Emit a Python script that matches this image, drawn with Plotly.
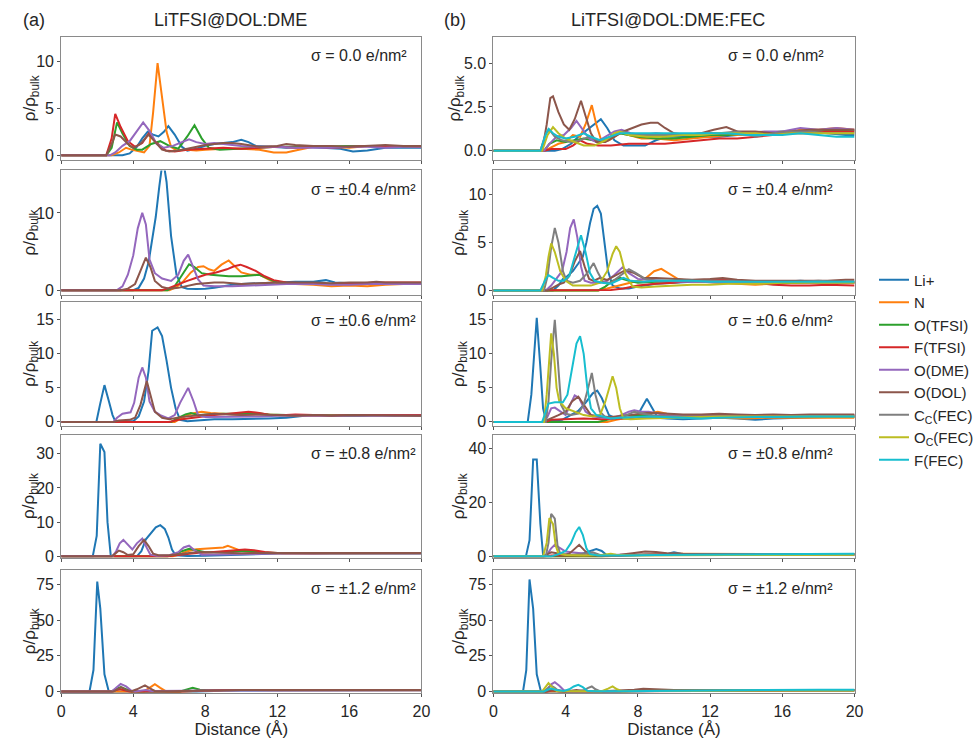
import plotly.graph_objects as go

# ---------------------------------------------------------------------------
# Number-density profiles rho/rho_bulk vs. distance from the electrode (Å)
# Each curve is a list of (distance, rho/rho_bulk) points.
# ---------------------------------------------------------------------------

SPECIES = ["Li+", "N", "O(TFSI)", "F(TFSI)", "O(DME)", "O(DOL)",
           "Cc(FEC)", "Oc(FEC)", "F(FEC)"]
LEGEND_LABELS = ["Li+", "N", "O(TFSI)", "F(TFSI)", "O(DME)", "O(DOL)",
                 "C<sub>C</sub>(FEC)", "O<sub>C</sub>(FEC)", "F(FEC)"]
COLORS = ["#1f77b4", "#ff7f0e", "#2ca02c", "#d62728", "#9467bd", "#8c564b",
          "#7f7f7f", "#bcbd22", "#17becf"]

SIGMA_LABELS = ["σ = 0.0 e/nm²", "σ = ±0.4 e/nm²", "σ = ±0.6 e/nm²",
                "σ = ±0.8 e/nm²", "σ = ±1.2 e/nm²"]
COLUMN_TITLES = ["LiTFSI@DOL:DME", "LiTFSI@DOL:DME:FEC"]
PANEL_TAGS = ["(a)", "(b)"]

X_TICKS = [0, 4, 8, 12, 16, 20]

# ---------------- LiTFSI@DOL:DME ----------------
dme_00 = {
    "Li+": [(0, 0), (3.4, 0), (3.8, 0.2), (4.2, 0.9), (4.5, 1.8), (4.8, 2.5), (5.1, 2.2), (5.4, 2.0), (5.7, 2.5),
            (5.95, 3.1), (6.3, 2.2), (6.7, 0.9), (7.0, 0.5), (7.5, 0.7), (8.0, 1.0), (8.5, 1.2), (9.0, 1.3),
            (9.5, 1.4), (10.0, 1.65), (10.4, 1.4), (10.8, 1.0), (11.5, 0.9), (12.5, 0.8), (13.5, 0.9), (14.5, 0.8),
            (15.5, 0.7), (16.2, 0.4), (17.0, 0.5), (18.0, 0.8), (19.0, 0.8), (20, 0.8)],
    "N": [(0, 0), (2.8, 0), (3.2, 0.3), (3.6, 0.8), (3.9, 0.6), (4.3, 0.4), (4.6, 0.3), (4.9, 1.0), (5.1, 4.5),
          (5.35, 9.8), (5.6, 6.0), (5.85, 2.5), (6.1, 0.9), (6.4, 0.5), (7.0, 0.6), (7.5, 0.5), (8.0, 0.6),
          (9.0, 0.7), (10.0, 0.7), (11.0, 0.6), (11.8, 0.3), (12.5, 0.3), (13.2, 0.6), (14.0, 0.9), (15.0, 0.9),
          (16.0, 0.8), (17.0, 1.0), (18.0, 1.0), (19.0, 1.0), (20, 0.9)],
    "O(TFSI)": [(0, 0), (2.5, 0), (2.8, 0.8), (3.1, 3.5), (3.4, 2.3), (3.8, 1.0), (4.2, 0.6), (4.5, 0.6), (5.0, 1.2),
                (5.5, 1.5), (6.0, 1.0), (6.5, 0.7), (7.0, 2.0), (7.4, 3.2), (7.8, 1.8), (8.2, 0.8), (8.8, 0.6),
                (10.0, 0.7), (11.0, 0.8), (12.0, 0.9), (14.0, 0.9), (16.0, 1.0), (18.0, 1.0), (20, 0.9)],
    "F(TFSI)": [(0, 0), (2.5, 0), (2.8, 1.8), (3.0, 4.4), (3.3, 3.0), (3.7, 1.5), (4.1, 0.9), (4.5, 1.3), (4.85, 2.3),
                (5.2, 1.5), (5.8, 0.5), (6.3, 0.4), (7.0, 0.6), (8.0, 0.7), (9.0, 0.8), (10.0, 0.7), (11.0, 0.8),
                (12.0, 0.9), (13.0, 0.8), (14.0, 0.9), (15.0, 0.8), (16.0, 0.9), (17.0, 1.0), (18.0, 0.9),
                (19.0, 1.0), (20, 0.9)],
    "O(DME)": [(0, 0), (2.7, 0), (3.0, 0.3), (3.4, 1.0), (3.8, 1.5), (4.2, 2.5), (4.55, 3.5), (4.9, 2.6), (5.3, 1.2),
               (5.7, 0.8), (6.2, 1.0), (6.7, 1.4), (7.1, 1.7), (7.5, 1.4), (8.0, 1.2), (8.5, 1.3), (9.0, 1.2),
               (10.0, 1.0), (11.0, 0.9), (12.0, 0.9), (13.0, 0.8), (14.0, 0.8), (15.0, 0.8), (16.0, 0.9),
               (17.0, 0.9), (18.0, 0.8), (19.0, 0.9), (20, 0.9)],
    "O(DOL)": [(0, 0), (2.5, 0), (2.8, 1.2), (3.0, 2.2), (3.3, 2.0), (3.7, 1.2), (4.0, 0.8), (4.4, 1.2), (4.85, 2.2),
               (5.2, 1.4), (5.6, 0.6), (6.0, 0.4), (6.5, 0.5), (7.0, 0.7), (7.5, 0.9), (8.0, 1.1), (8.5, 1.2),
               (9.0, 1.3), (9.5, 1.3), (10.0, 1.2), (11.0, 0.9), (12.0, 1.0), (12.5, 1.2), (13.0, 1.1), (14.0, 1.0),
               (15.0, 1.0), (16.0, 0.9), (17.0, 1.0), (18.0, 1.1), (19.0, 1.0), (20, 1.0)],
}

dme_04 = {
    "Li+": [(0, 0), (4.0, 0), (4.3, 0.3), (4.6, 1.5), (4.85, 3.6), (5.05, 6.5), (5.25, 9.5), (5.45, 13.5),
            (5.65, 17.0), (5.85, 14.0), (6.1, 7.0), (6.4, 2.0), (6.7, 0.4), (7.0, 0.2), (7.5, 0.15), (8.0, 0.2),
            (8.5, 0.3), (9.0, 0.5), (9.5, 0.7), (10.0, 0.8), (11.0, 0.9), (12.0, 1.0), (13.0, 1.1), (14.0, 1.1),
            (14.7, 1.3), (15.2, 1.0), (16.0, 0.9), (17.0, 0.9), (18.0, 0.9), (19.0, 0.9), (20, 0.9)],
    "N": [(0, 0), (6.0, 0), (6.4, 0.4), (6.8, 1.2), (7.2, 2.3), (7.6, 3.0), (7.9, 3.1), (8.2, 2.7), (8.5, 2.5),
          (8.9, 3.3), (9.3, 3.85), (9.6, 3.2), (10.0, 2.3), (10.5, 2.0), (11.0, 2.0), (11.5, 1.4), (12.0, 0.9),
          (12.5, 0.8), (13.0, 0.8), (14.0, 0.7), (15.0, 0.5), (16.0, 0.6), (17.0, 0.5), (18.0, 0.7), (19.0, 0.8),
          (20, 0.8)],
    "O(TFSI)": [(0, 0), (5.9, 0), (6.3, 0.5), (6.7, 2.0), (7.1, 3.35), (7.4, 3.0), (7.8, 2.2), (8.3, 2.0),
                (8.8, 1.9), (9.3, 1.8), (10.0, 1.8), (10.6, 1.9), (11.0, 2.0), (11.5, 1.5), (12.0, 1.0), (12.5, 0.9),
                (13.5, 0.9), (15.0, 0.8), (16.0, 0.8), (17.0, 0.8), (18.0, 0.8), (19.0, 0.8), (20, 0.8)],
    "F(TFSI)": [(0, 0), (5.6, 0), (6.0, 0.3), (6.5, 0.8), (7.0, 1.2), (7.5, 1.6), (8.0, 2.0), (8.6, 2.3), (9.2, 2.7),
                (9.6, 3.1), (9.95, 3.3), (10.3, 3.0), (10.8, 2.5), (11.3, 1.8), (11.8, 1.3), (12.5, 1.0),
                (13.5, 0.9), (14.5, 0.8), (15.5, 0.8), (16.5, 0.9), (17.5, 1.0), (18.5, 1.0), (19.5, 1.0),
                (20, 1.0)],
    "O(DME)": [(0, 0), (3.1, 0), (3.4, 0.5), (3.7, 2.0), (4.0, 4.5), (4.25, 8.0), (4.5, 10.0), (4.7, 8.5),
               (4.9, 4.0), (5.2, 2.2), (5.6, 1.5), (6.1, 1.2), (6.5, 2.0), (6.8, 3.8), (7.05, 4.6), (7.3, 3.2),
               (7.6, 1.4), (7.9, 0.6), (8.5, 0.5), (9.5, 0.5), (10.5, 0.6), (11.5, 0.7), (12.5, 0.8), (14.0, 0.8),
               (15.0, 0.7), (16.0, 0.7), (17.0, 0.8), (18.0, 0.8), (19.0, 0.8), (20, 0.8)],
    "O(DOL)": [(0, 0), (3.3, 0), (3.7, 0.2), (4.1, 0.8), (4.4, 2.5), (4.7, 4.2), (4.95, 3.0), (5.2, 1.2), (5.6, 0.4),
               (6.0, 0.2), (6.5, 0.3), (7.0, 0.6), (7.5, 0.8), (8.0, 0.9), (8.5, 1.0), (9.0, 1.0), (9.5, 0.9),
               (10.0, 0.8), (11.0, 0.9), (12.0, 1.0), (13.0, 1.0), (14.0, 1.0), (15.0, 0.9), (16.0, 1.0),
               (17.0, 1.0), (17.5, 1.1), (18.0, 1.0), (19.0, 1.0), (20, 1.0)],
}

dme_06 = {
    "Li+": [(0, 0), (1.95, 0), (2.15, 2.5), (2.4, 5.4), (2.65, 3.0), (2.85, 1.0), (3.0, 0.1), (4.0, 0.1), (4.3, 0.8),
            (4.6, 3.0), (4.85, 7.5), (5.05, 13.4), (5.35, 13.9), (5.6, 12.6), (5.85, 9.0), (6.1, 5.0), (6.35, 2.0),
            (6.6, 0.3), (7.0, 0.1), (7.5, 0.2), (8.5, 0.4), (9.5, 0.4), (10.5, 0.4), (11.5, 0.5), (12.5, 0.6),
            (13.5, 0.9), (14.5, 1.0), (15.5, 0.9), (16.5, 0.9), (17.5, 1.0), (18.5, 0.9), (19.5, 1.0), (20, 0.9)],
    "N": [(0, 0), (6.3, 0), (6.7, 0.6), (7.2, 1.2), (7.8, 1.5), (8.3, 1.3), (9.0, 1.2), (10.0, 1.0), (11.0, 1.1),
          (12.0, 1.0), (13.0, 1.0), (14.0, 0.9), (15.0, 1.0), (16.0, 0.9), (17.0, 1.0), (18.0, 1.0), (19.0, 0.9),
          (20, 0.9)],
    "O(TFSI)": [(0, 0), (6.1, 0), (6.5, 0.6), (6.9, 1.1), (7.2, 1.3), (7.6, 1.0), (8.2, 1.1), (9.0, 1.2),
                (10.0, 1.2), (10.8, 1.3), (11.5, 1.1), (12.5, 1.0), (14.0, 1.0), (16.0, 0.9), (18.0, 1.0),
                (20, 0.9)],
    "F(TFSI)": [(0, 0), (6.0, 0), (6.5, 0.3), (7.0, 0.5), (7.8, 0.8), (8.5, 1.0), (9.3, 1.2), (10.0, 1.4),
                (10.4, 1.5), (11.0, 1.3), (11.6, 1.0), (12.5, 1.0), (13.0, 1.1), (14.0, 1.0), (15.0, 0.9),
                (16.0, 1.0), (17.0, 1.0), (18.0, 1.1), (19.0, 1.0), (20, 1.0)],
    "O(DME)": [(0, 0), (2.9, 0), (3.1, 0.6), (3.4, 1.2), (3.85, 1.4), (4.05, 2.8), (4.3, 6.5), (4.5, 8.0),
               (4.7, 6.5), (4.9, 3.0), (5.2, 1.5), (5.5, 1.0), (5.95, 0.5), (6.3, 1.0), (6.6, 2.8), (7.05, 5.0),
               (7.35, 3.0), (7.6, 1.0), (8.0, 0.7), (9.0, 0.7), (10.0, 0.8), (11.0, 0.8), (12.0, 0.9), (13.0, 0.9),
               (14.0, 0.9), (15.0, 0.9), (16.0, 0.9), (17.0, 0.9), (18.0, 0.9), (19.0, 0.9), (20, 0.9)],
    "O(DOL)": [(0, 0), (2.9, 0), (3.2, 0.2), (3.8, 0.3), (4.1, 0.6), (4.4, 2.5), (4.75, 6.0), (5.0, 3.5),
               (5.2, 1.5), (5.6, 0.6), (6.0, 0.4), (6.6, 0.7), (7.2, 0.9), (7.8, 1.0), (8.5, 1.2), (9.0, 1.1),
               (10.0, 1.0), (11.0, 1.1), (12.0, 1.0), (13.0, 0.9), (14.0, 1.0), (15.0, 0.9), (16.0, 1.0),
               (17.0, 1.0), (18.0, 0.9), (19.0, 1.0), (20, 0.9)],
}

dme_08 = {
    "Li+": [(0, 0), (1.75, 0), (1.97, 6.0), (2.17, 32.9), (2.4, 30.5), (2.57, 10.0), (2.75, 0.2), (3.0, 0),
            (4.2, 0), (4.45, 1.5), (4.7, 5.0), (5.0, 7.0), (5.25, 8.5), (5.5, 9.1), (5.75, 8.0), (5.95, 5.5),
            (6.15, 2.0), (6.35, 0.3), (7.0, 0.1), (8.0, 0.2), (9.0, 0.4), (10.0, 0.5), (11.0, 0.6), (12.0, 0.8),
            (13.0, 0.9), (14.0, 0.9), (15.0, 0.8), (16.0, 0.8), (17.0, 0.9), (18.0, 0.9), (19.0, 0.9), (20, 0.9)],
    "N": [(0, 0), (6.2, 0), (6.6, 0.6), (7.0, 1.5), (7.5, 2.1), (8.0, 2.3), (8.6, 2.4), (9.0, 2.6), (9.25, 3.1),
          (9.6, 2.4), (10.0, 1.6), (10.6, 1.2), (11.5, 0.9), (12.5, 0.8), (14.0, 0.9), (15.0, 0.8), (16.0, 0.8),
          (18.0, 0.9), (20, 0.9)],
    "O(TFSI)": [(0, 0), (5.9, 0), (6.3, 0.5), (6.7, 1.5), (7.1, 2.2), (7.5, 1.7), (8.0, 1.2), (8.8, 1.3),
                (9.5, 1.4), (10.3, 1.6), (11.0, 1.2), (12.0, 1.0), (14.0, 0.9), (16.0, 0.9), (18.0, 0.9),
                (20, 0.9)],
    "F(TFSI)": [(0, 0), (5.9, 0), (6.5, 0.4), (7.0, 0.7), (7.5, 1.0), (8.3, 1.2), (9.0, 1.5), (9.6, 1.8),
                (10.2, 2.0), (10.7, 1.8), (11.3, 1.3), (12.0, 1.0), (13.0, 0.9), (14.0, 0.9), (15.0, 1.0),
                (16.0, 0.9), (17.0, 1.0), (18.0, 1.0), (19.0, 1.0), (20, 1.0)],
    "O(DME)": [(0, 0), (2.85, 0), (3.05, 1.5), (3.25, 3.8), (3.45, 4.8), (3.7, 3.5), (3.95, 2.0), (4.2, 3.8),
               (4.5, 5.2), (4.75, 2.5), (4.95, 0.5), (5.3, 0.2), (6.0, 0.3), (6.5, 1.2), (6.8, 2.6), (7.1, 3.1),
               (7.4, 1.8), (7.8, 0.5), (8.5, 0.5), (9.5, 0.6), (10.5, 0.7), (12.0, 0.8), (14.0, 0.8), (16.0, 0.8),
               (18.0, 0.8), (20, 0.8)],
    "O(DOL)": [(0, 0), (2.8, 0), (3.0, 0.8), (3.2, 1.7), (3.45, 1.2), (3.7, 0.4), (4.0, 0.6), (4.3, 3.0),
               (4.6, 4.8), (4.85, 3.0), (5.1, 0.8), (5.4, 0.3), (6.0, 0.3), (6.5, 0.6), (7.0, 1.0), (7.5, 1.2),
               (8.0, 1.2), (8.5, 1.1), (9.0, 1.0), (10.0, 0.9), (11.0, 1.0), (12.0, 1.0), (13.0, 1.1), (14.0, 1.0),
               (15.0, 1.0), (16.0, 1.0), (17.0, 1.0), (18.0, 1.0), (19.0, 1.0), (20, 1.0)],
}

dme_12 = {
    "Li+": [(0, 0), (1.57, 0), (1.79, 15.0), (2.0, 77.0), (2.17, 58.0), (2.4, 12.0), (2.63, 0.5), (2.8, 0),
            (7.5, 0), (8.0, 0.3), (9.0, 0.5), (10.0, 0.6), (12.0, 0.7), (14.0, 0.8), (16.0, 0.8), (18.0, 0.8),
            (20, 0.8)],
    "N": [(0, 0), (4.6, 0), (4.9, 2.5), (5.2, 5.1), (5.5, 2.5), (5.8, 0.2), (6.5, 0), (7.5, 0.3), (8.5, 0.9),
          (10.0, 1.0), (12.0, 0.9), (14.0, 0.9), (16.0, 0.9), (18.0, 0.9), (20, 0.9)],
    "O(TFSI)": [(0, 0), (2.8, 0), (3.1, 2.0), (3.3, 3.0), (3.6, 1.5), (3.9, 0), (6.6, 0), (7.0, 1.5), (7.3, 2.5),
                (7.7, 1.2), (8.2, 0.8), (9.0, 1.0), (10.0, 1.0), (12.0, 1.0), (14.0, 0.9), (16.0, 0.9),
                (18.0, 1.0), (20, 1.0)],
    "F(TFSI)": [(0, 0), (2.8, 0), (3.05, 1.0), (3.25, 1.6), (3.5, 0.8), (3.8, 0), (6.5, 0), (7.0, 0.3), (8.0, 0.7),
                (9.0, 1.0), (11.0, 1.0), (13.0, 1.1), (15.0, 1.0), (17.0, 1.0), (20, 1.0)],
    "O(DME)": [(0, 0), (2.8, 0), (3.0, 2.0), (3.3, 5.3), (3.6, 3.5), (3.9, 0.5), (4.1, 0), (4.4, 0.5), (4.7, 1.0),
               (5.0, 0.3), (6.0, 0.1), (7.0, 0.4), (8.0, 0.6), (10.0, 0.7), (12.0, 0.8), (14.0, 0.8), (16.0, 0.8),
               (18.0, 0.8), (20, 0.8)],
    "O(DOL)": [(0, 0), (2.9, 0), (3.1, 1.5), (3.35, 2.8), (3.6, 1.0), (3.9, 0.2), (4.2, 1.5), (4.65, 4.2),
               (4.95, 2.0), (5.2, 0.3), (6.0, 0.2), (7.0, 0.5), (8.0, 0.9), (9.0, 1.0), (10.0, 1.0), (12.0, 1.0),
               (13.0, 1.2), (14.0, 1.0), (16.0, 1.0), (18.0, 1.0), (20, 1.0)],
}

# ---------------- LiTFSI@DOL:DME:FEC ----------------
fec_00 = {
    "Li+": [(0, 0), (3.4, 0), (3.8, 0.1), (4.3, 0.4), (4.7, 0.8), (5.2, 1.2), (5.6, 1.5), (5.95, 1.8), (6.3, 1.3),
            (6.7, 0.6), (7.2, 0.3), (7.8, 0.3), (8.4, 0.3), (9.0, 0.6), (9.6, 0.8), (10.5, 0.8), (11.5, 0.8),
            (12.5, 0.8), (13.5, 0.9), (14.5, 0.9), (15.5, 0.9), (16.5, 1.0), (17.5, 1.1), (18.5, 1.0), (19.5, 0.9),
            (20, 0.9)],
    "N": [(0, 0), (2.8, 0), (3.2, 0.2), (3.6, 0.4), (4.0, 0.5), (4.4, 0.9), (4.8, 0.8), (5.1, 1.5), (5.45, 2.6),
          (5.7, 1.5), (6.0, 0.5), (6.4, 0.6), (7.0, 1.0), (7.5, 0.9), (8.2, 0.7), (9.0, 0.7), (10.0, 0.6),
          (11.0, 0.7), (12.0, 0.8), (13.0, 0.9), (14.0, 0.9), (15.0, 1.0), (16.0, 1.0), (17.0, 1.2), (18.0, 1.2),
          (19.0, 1.3), (20, 1.2)],
    "O(TFSI)": [(0, 0), (2.8, 0), (3.1, 0.4), (3.5, 0.6), (4.0, 0.5), (4.5, 0.6), (5.0, 0.7), (5.5, 0.6),
                (6.0, 0.5), (6.5, 0.8), (7.0, 1.0), (7.5, 0.9), (8.0, 0.8), (9.0, 0.7), (10.0, 0.7), (11.0, 0.8),
                (12.0, 0.9), (13.0, 0.9), (14.0, 1.0), (15.0, 1.0), (16.0, 1.1), (17.0, 1.1), (18.0, 1.1),
                (19.0, 1.2), (20, 1.1)],
    "F(TFSI)": [(0, 0), (2.8, 0), (3.2, 0.1), (4.0, 0.1), (4.4, 0.3), (4.8, 0.6), (5.2, 0.4), (5.8, 0.3),
                (6.5, 0.3), (7.5, 0.4), (8.5, 0.4), (9.5, 0.4), (10.5, 0.5), (11.5, 0.6), (12.5, 0.7), (13.5, 0.7),
                (14.5, 0.8), (15.5, 0.9), (16.5, 1.0), (17.5, 1.0), (18.5, 1.1), (19.5, 1.1), (20, 1.1)],
    "O(DME)": [(0, 0), (2.8, 0), (3.1, 0.4), (3.5, 0.8), (3.9, 0.9), (4.3, 1.3), (4.6, 1.7), (4.9, 1.3), (5.3, 0.7),
               (5.7, 0.5), (6.2, 0.8), (6.7, 1.1), (7.1, 1.2), (7.6, 1.0), (8.2, 0.9), (9.0, 1.0), (10.0, 0.9),
               (11.0, 0.9), (12.0, 1.0), (13.0, 1.0), (14.0, 1.0), (15.0, 1.1), (16.0, 1.1), (17.0, 1.3),
               (18.0, 1.2), (19.0, 1.3), (20, 1.2)],
    "O(DOL)": [(0, 0), (2.7, 0), (2.95, 1.5), (3.15, 3.0), (3.3, 3.1), (3.6, 2.2), (3.9, 1.5), (4.2, 1.2),
               (4.5, 1.8), (4.85, 2.85), (5.1, 2.0), (5.4, 1.0), (5.7, 0.5), (6.2, 0.5), (6.7, 0.8), (7.2, 1.1),
               (7.7, 1.3), (8.2, 1.5), (8.7, 1.6), (9.1, 1.6), (9.5, 1.3), (10.0, 1.0), (10.7, 0.9), (11.5, 1.0),
               (12.2, 1.2), (12.9, 1.35), (13.5, 1.1), (14.5, 1.1), (15.5, 1.0), (16.5, 1.1), (17.5, 1.2),
               (18.5, 1.2), (19.5, 1.2), (20, 1.2)],
    "Cc(FEC)": [(0, 0), (2.6, 0), (2.9, 1.0), (3.1, 1.2), (3.4, 0.8), (3.8, 0.6), (4.3, 0.5), (4.8, 0.6),
                (5.3, 0.8), (5.8, 0.6), (6.3, 0.7), (6.8, 1.0), (7.2, 1.1), (7.7, 0.9), (8.5, 0.9), (9.5, 0.9),
                (10.5, 0.9), (11.5, 1.0), (12.5, 1.0), (13.5, 1.1), (14.5, 0.8), (15.5, 1.0), (16.5, 1.1),
                (17.5, 1.1), (18.5, 1.0), (19.5, 1.0), (20, 1.0)],
    "Oc(FEC)": [(0, 0), (2.7, 0), (3.0, 0.9), (3.3, 1.35), (3.6, 1.0), (4.0, 0.7), (4.5, 0.5), (5.0, 0.3),
                (5.6, 0.3), (6.2, 0.6), (6.7, 1.0), (7.0, 1.1), (7.5, 0.9), (8.5, 0.8), (9.5, 0.8), (10.5, 0.9),
                (11.5, 0.9), (12.5, 1.0), (13.5, 1.0), (14.5, 1.0), (15.5, 0.9), (16.5, 1.0), (17.5, 1.0),
                (18.5, 1.0), (19.5, 1.0), (20, 1.0)],
    "F(FEC)": [(0, 0), (2.6, 0), (2.85, 0.8), (3.05, 1.25), (3.3, 1.0), (3.6, 0.8), (4.0, 0.7), (4.5, 0.8),
               (5.0, 1.0), (5.4, 0.8), (5.9, 0.6), (6.4, 0.8), (7.0, 1.0), (8.0, 1.0), (9.0, 1.0), (10.0, 1.0),
               (11.0, 1.0), (12.0, 1.0), (13.0, 1.0), (14.0, 0.9), (15.0, 0.9), (16.0, 0.9), (17.0, 1.0),
               (18.0, 0.9), (19.0, 0.8), (20, 0.8)],
}

fec_04 = {
    "Li+": [(0, 0), (3.3, 0), (3.6, 0.5), (3.85, 1.2), (4.1, 1.5), (4.4, 2.0), (4.7, 2.8), (4.95, 3.5), (5.15, 5.0),
            (5.35, 7.0), (5.55, 8.5), (5.75, 8.8), (5.95, 8.0), (6.15, 5.0), (6.35, 2.0), (6.6, 0.5), (7.0, 0.2),
            (7.5, 0.2), (8.0, 0.4), (9.0, 0.7), (10.0, 0.8), (11.0, 0.9), (12.0, 0.9), (13.0, 1.0), (14.0, 0.9),
            (15.0, 0.9), (16.0, 0.9), (17.0, 1.0), (18.0, 0.9), (19.0, 0.9), (20, 0.9)],
    "N": [(0, 0), (5.8, 0), (6.3, 0.2), (7.0, 0.5), (7.8, 0.9), (8.4, 1.2), (8.9, 2.0), (9.3, 2.25), (9.7, 1.8),
          (10.2, 1.2), (10.8, 1.0), (11.5, 0.9), (12.5, 0.8), (13.5, 0.7), (14.5, 0.6), (15.5, 0.7), (16.5, 0.8),
          (17.5, 0.8), (18.5, 0.8), (19.5, 0.8), (20, 0.8)],
    "O(TFSI)": [(0, 0), (5.8, 0), (6.2, 0.4), (6.6, 1.0), (7.0, 1.3), (7.5, 1.0), (8.0, 0.8), (9.0, 0.9),
                (10.0, 1.0), (11.0, 1.0), (12.0, 0.9), (13.0, 0.9), (14.0, 0.8), (15.0, 0.8), (16.0, 0.8),
                (17.0, 0.8), (18.0, 0.8), (19.0, 0.8), (20, 0.8)],
    "F(TFSI)": [(0, 0), (3.0, 0), (3.5, 0.05), (6.5, 0.05), (7.2, 0.2), (8.0, 0.5), (9.0, 0.7), (10.0, 0.8),
                (11.0, 1.0), (12.0, 1.1), (12.8, 1.2), (13.5, 1.0), (14.5, 0.8), (15.5, 0.6), (16.5, 0.5),
                (17.5, 0.5), (18.5, 0.6), (19.5, 0.5), (20, 0.5)],
    "O(DME)": [(0, 0), (2.9, 0), (3.2, 0.5), (3.5, 1.2), (3.8, 2.0), (4.05, 4.0), (4.25, 6.5), (4.45, 7.4),
               (4.65, 5.5), (4.85, 2.5), (5.05, 1.0), (5.4, 0.8), (5.9, 0.8), (6.3, 1.0), (6.7, 1.6), (7.15, 2.4),
               (7.5, 1.8), (8.0, 1.2), (8.5, 1.1), (9.5, 1.0), (10.5, 0.9), (11.5, 0.9), (12.5, 0.8), (13.5, 0.8),
               (14.5, 0.8), (15.5, 0.8), (16.5, 0.9), (17.5, 0.8), (18.5, 0.8), (19.5, 0.8), (20, 0.8)],
    "O(DOL)": [(0, 0), (3.0, 0), (3.3, 0.3), (3.6, 0.6), (3.9, 0.8), (4.2, 1.5), (4.5, 3.0), (4.8, 4.1), (5.05, 2.5),
               (5.3, 1.2), (5.55, 1.0), (5.9, 1.3), (6.3, 1.1), (6.8, 1.6), (7.3, 2.1), (7.8, 1.8), (8.3, 1.3),
               (9.0, 1.3), (10.0, 1.2), (11.0, 1.1), (12.0, 1.2), (12.7, 1.3), (13.5, 1.1), (14.5, 1.0),
               (15.5, 1.0), (16.5, 1.0), (17.5, 1.0), (18.5, 1.0), (19.5, 1.1), (20, 1.1)],
    "Cc(FEC)": [(0, 0), (2.8, 0), (3.0, 1.5), (3.2, 4.5), (3.4, 6.5), (3.6, 5.0), (3.85, 2.0), (4.05, 1.0),
                (4.4, 0.8), (4.8, 1.0), (5.2, 1.8), (5.55, 2.85), (5.8, 1.8), (6.1, 0.8), (6.5, 0.8), (7.0, 1.5),
                (7.5, 2.2), (7.9, 1.8), (8.4, 1.2), (9.0, 1.0), (10.0, 1.0), (11.0, 1.0), (12.0, 1.0), (13.0, 1.0),
                (14.0, 0.9), (15.0, 0.9), (16.0, 0.9), (17.0, 0.9), (18.0, 1.0), (19.0, 0.9), (20, 0.9)],
    "Oc(FEC)": [(0, 0), (2.7, 0), (2.9, 1.5), (3.05, 3.5), (3.2, 4.9), (3.4, 4.0), (3.7, 2.0), (4.0, 1.0),
                (4.4, 0.5), (4.9, 0.5), (5.4, 0.5), (5.9, 0.8), (6.3, 2.0), (6.6, 3.8), (6.8, 4.6), (7.0, 4.0),
                (7.3, 1.8), (7.7, 0.4), (8.2, 0.3), (9.0, 0.4), (10.0, 0.5), (11.0, 0.6), (12.0, 0.6), (13.0, 0.7),
                (14.0, 0.7), (15.0, 0.7), (16.0, 0.8), (17.0, 0.8), (18.0, 0.8), (19.0, 0.8), (20, 0.8)],
    "F(FEC)": [(0, 0), (2.6, 0), (2.85, 1.0), (3.05, 1.6), (3.3, 1.3), (3.6, 1.0), (3.9, 1.0), (4.2, 1.5),
               (4.5, 3.5), (4.85, 5.75), (5.1, 4.0), (5.35, 1.8), (5.6, 1.0), (6.0, 0.8), (6.5, 0.7), (6.9, 1.0),
               (7.2, 1.3), (7.6, 1.0), (8.3, 0.9), (9.0, 1.0), (10.0, 1.0), (11.0, 1.0), (12.0, 0.9), (13.0, 0.9),
               (14.0, 0.9), (15.0, 0.9), (16.0, 0.9), (17.0, 0.9), (18.0, 0.9), (19.0, 0.9), (20, 0.9)],
}

fec_06 = {
    "Li+": [(0, 0), (1.9, 0), (2.1, 4.0), (2.4, 15.3), (2.6, 8.0), (2.75, 2.0), (2.9, 0.3), (3.3, 0.2), (3.8, 0.3),
            (4.3, 1.0), (4.7, 1.6), (5.1, 2.8), (5.5, 4.2), (5.75, 4.6), (6.0, 3.5), (6.4, 1.0), (6.8, 0.5),
            (7.3, 0.5), (7.9, 0.5), (8.2, 2.0), (8.5, 3.4), (8.8, 2.0), (9.1, 0.6), (9.6, 0.5), (10.5, 0.4),
            (11.5, 0.5), (12.5, 0.6), (13.5, 0.5), (14.5, 0.3), (15.5, 0.5), (16.5, 0.6), (17.5, 0.6), (18.5, 0.7),
            (19.5, 0.7), (20, 0.7)],
    "N": [(0, 0), (6.3, 0), (6.8, 0.3), (7.5, 0.6), (8.0, 0.9), (8.5, 1.2), (9.1, 1.5), (9.6, 1.2), (10.2, 0.9),
          (11.0, 0.7), (12.0, 0.6), (13.0, 0.6), (14.0, 0.5), (15.0, 0.6), (16.0, 0.6), (17.0, 0.6), (18.0, 0.6),
          (19.0, 0.6), (20, 0.6)],
    "O(TFSI)": [(0, 0), (5.8, 0), (6.3, 0.3), (7.0, 0.8), (7.5, 1.0), (8.0, 0.9), (9.0, 0.8), (10.0, 0.8),
                (11.0, 0.8), (12.0, 0.8), (13.0, 0.8), (14.0, 0.8), (15.0, 0.8), (16.0, 0.8), (17.0, 0.8),
                (18.0, 0.8), (19.0, 0.8), (20, 0.8)],
    "F(TFSI)": [(0, 0), (2.9, 0), (3.2, 0.3), (4.0, 0.4), (5.0, 0.5), (6.0, 0.4), (7.0, 0.5), (8.0, 0.7),
                (9.0, 0.8), (10.0, 0.9), (11.0, 1.0), (12.0, 1.0), (13.0, 1.0), (14.0, 1.0), (15.0, 1.0),
                (16.0, 1.0), (17.0, 1.0), (18.0, 1.0), (19.0, 1.0), (20, 1.0)],
    "O(DME)": [(0, 0), (2.8, 0), (3.0, 0.8), (3.2, 2.0), (3.4, 2.1), (3.7, 1.5), (4.0, 1.0), (4.25, 2.5),
               (4.5, 3.9), (4.75, 3.5), (5.1, 1.5), (5.5, 0.8), (6.0, 0.6), (6.5, 0.5), (7.0, 0.9), (7.5, 1.5),
               (7.8, 1.7), (8.2, 1.5), (8.6, 1.5), (9.0, 1.3), (9.5, 1.0), (10.5, 0.8), (11.5, 0.8), (12.5, 0.8),
               (13.5, 0.9), (14.5, 0.9), (15.5, 0.9), (16.5, 0.9), (17.5, 0.9), (18.5, 0.9), (19.5, 0.9), (20, 0.9)],
    "O(DOL)": [(0, 0), (2.8, 0), (3.0, 0.3), (3.3, 0.6), (3.6, 1.0), (4.0, 1.5), (4.35, 3.0), (4.7, 3.7),
               (5.0, 2.5), (5.4, 1.0), (5.9, 0.8), (6.5, 0.7), (7.2, 0.9), (7.8, 1.1), (8.5, 1.3), (9.0, 1.3),
               (9.5, 1.2), (10.5, 1.1), (11.5, 1.1), (12.5, 1.2), (13.5, 1.1), (14.5, 1.0), (15.5, 1.1),
               (16.5, 1.0), (17.5, 1.1), (18.5, 1.1), (19.5, 1.1), (20, 1.1)],
    "Cc(FEC)": [(0, 0), (2.9, 0), (3.05, 3.0), (3.2, 9.0), (3.4, 15.0), (3.55, 9.0), (3.75, 2.5), (4.0, 1.2),
                (4.3, 1.0), (4.7, 1.2), (5.0, 2.5), (5.25, 5.0), (5.45, 7.2), (5.65, 4.0), (5.9, 1.5), (6.2, 0.7),
                (6.7, 0.5), (7.2, 0.8), (7.8, 1.5), (8.3, 1.2), (9.0, 0.9), (10.0, 0.8), (11.0, 0.8), (12.0, 0.8),
                (13.0, 0.8), (14.0, 0.8), (15.0, 0.8), (16.0, 0.8), (17.0, 0.8), (18.0, 0.8), (19.0, 0.8),
                (20, 0.8)],
    "Oc(FEC)": [(0, 0), (2.8, 0), (2.95, 4.0), (3.1, 10.0), (3.2, 13.0), (3.35, 10.0), (3.5, 5.0), (3.65, 3.0),
                (4.0, 2.0), (4.5, 1.5), (5.0, 1.0), (5.5, 0.8), (5.9, 1.0), (6.2, 3.0), (6.45, 5.5), (6.6, 6.7),
                (6.8, 5.0), (7.0, 2.0), (7.2, 0.5), (7.6, 0.4), (8.5, 0.5), (9.5, 0.6), (10.5, 0.7), (11.5, 0.7),
                (12.5, 0.8), (13.5, 0.8), (14.5, 0.8), (15.5, 0.8), (16.5, 0.8), (17.5, 0.8), (18.5, 0.8),
                (19.5, 0.8), (20, 0.8)],
    "F(FEC)": [(0, 0), (2.7, 0), (2.9, 1.5), (3.05, 2.7), (3.4, 2.9), (3.85, 2.9), (4.1, 4.0), (4.35, 8.0),
               (4.6, 11.5), (4.8, 12.6), (5.0, 10.0), (5.2, 5.0), (5.4, 2.0), (5.7, 1.0), (6.0, 0.8), (6.5, 0.5),
               (7.0, 0.6), (7.5, 0.7), (8.5, 0.8), (9.5, 0.7), (10.5, 0.6), (11.5, 0.5), (12.5, 0.6), (13.5, 0.7),
               (14.5, 0.7), (15.5, 0.7), (16.5, 0.8), (17.5, 0.8), (18.5, 0.8), (19.5, 0.8), (20, 0.8)],
}

fec_08 = {
    "Li+": [(0, 0), (1.8, 0), (2.0, 6.0), (2.2, 36.0), (2.4, 36.0), (2.6, 12.0), (2.75, 0.5), (3.0, 0), (4.0, 0.1),
            (4.5, 0.5), (5.0, 1.2), (5.4, 2.2), (5.7, 2.7), (6.0, 2.0), (6.3, 0.3), (7.0, 0.2), (8.0, 0.4),
            (9.0, 0.7), (9.7, 1.1), (10.0, 1.5), (10.4, 1.0), (11.0, 0.8), (12.0, 0.7), (13.0, 0.7), (14.0, 0.7),
            (15.0, 0.7), (16.0, 0.6), (17.0, 0.7), (18.0, 0.7), (19.0, 0.7), (20, 0.7)],
    "N": [(0, 0), (6.3, 0), (7.0, 0.3), (8.0, 0.7), (9.0, 0.9), (10.0, 1.0), (12.0, 0.9), (14.0, 0.9),
          (16.0, 0.9), (18.0, 0.9), (20, 0.9)],
    "O(TFSI)": [(0, 0), (6.0, 0), (6.6, 0.3), (7.2, 0.5), (8.0, 0.6), (10.0, 0.7), (12.0, 0.7), (14.0, 0.7),
                (16.0, 0.7), (18.0, 0.7), (20, 0.7)],
    "F(TFSI)": [(0, 0), (2.9, 0), (3.2, 0.3), (5.0, 0.3), (7.0, 0.4), (9.0, 0.6), (11.0, 0.7), (13.0, 0.7),
                (15.0, 0.7), (17.0, 0.7), (20, 0.7)],
    "O(DME)": [(0, 0), (2.8, 0), (3.0, 1.0), (3.2, 3.0), (3.4, 4.3), (3.7, 3.0), (4.0, 1.8), (4.3, 1.5), (4.7, 1.2),
               (5.0, 1.0), (5.5, 0.5), (6.0, 0.4), (7.0, 0.6), (8.0, 0.7), (10.0, 0.7), (12.0, 0.7), (14.0, 0.7),
               (16.0, 0.7), (18.0, 0.7), (20, 0.7)],
    "O(DOL)": [(0, 0), (2.8, 0), (3.0, 0.8), (3.2, 1.5), (3.5, 1.2), (3.8, 0.5), (4.2, 1.0), (4.5, 3.0),
               (4.75, 4.3), (5.0, 2.5), (5.3, 0.5), (6.0, 0.3), (7.0, 0.6), (7.7, 1.2), (8.4, 1.85), (9.0, 1.6),
               (9.6, 1.2), (10.5, 1.0), (11.5, 0.9), (12.5, 0.9), (13.5, 0.9), (14.5, 0.8), (15.5, 0.8),
               (16.5, 0.8), (17.5, 0.9), (18.5, 0.8), (19.5, 0.8), (20, 0.8)],
    "Cc(FEC)": [(0, 0), (2.9, 0), (3.05, 5.0), (3.2, 15.8), (3.4, 14.0), (3.55, 4.0), (3.7, 1.0), (4.2, 0.5),
                (4.8, 0.8), (5.2, 1.3), (5.5, 1.5), (5.9, 0.5), (6.5, 0.3), (7.5, 0.4), (9.0, 0.5), (11.0, 0.6),
                (13.0, 0.6), (15.0, 0.6), (17.0, 0.6), (20, 0.6)],
    "Oc(FEC)": [(0, 0), (2.75, 0), (2.95, 5.0), (3.1, 14.2), (3.3, 12.0), (3.45, 4.0), (3.6, 1.0), (4.0, 0.5),
                (5.0, 0.3), (6.0, 0.5), (6.5, 1.0), (6.8, 0.6), (7.5, 0.3), (9.0, 0.4), (11.0, 0.5), (13.0, 0.5),
                (15.0, 0.5), (17.0, 0.6), (20, 0.6)],
    "F(FEC)": [(0, 0), (3.2, 0), (3.6, 0.8), (4.0, 2.0), (4.3, 5.0), (4.55, 9.0), (4.75, 10.9), (4.95, 8.0),
               (5.15, 3.0), (5.35, 0.8), (5.8, 0.3), (6.5, 0.2), (7.5, 0.3), (9.0, 0.5), (11.0, 0.6), (13.0, 0.7),
               (15.0, 0.8), (17.0, 0.9), (19.0, 1.0), (20, 1.0)],
}

fec_12 = {
    "Li+": [(0, 0), (1.64, 0), (1.82, 15.0), (2.0, 78.5), (2.2, 58.0), (2.4, 12.0), (2.62, 0.5), (2.8, 0), (7.0, 0),
            (8.0, 0.3), (10.0, 0.5), (12.0, 0.7), (14.0, 0.8), (16.0, 0.8), (18.0, 0.9), (20, 0.9)],
    "N": [(0, 0), (5.0, 0), (7.0, 0.2), (9.0, 0.6), (11.0, 0.8), (14.0, 0.9), (17.0, 0.9), (20, 0.9)],
    "O(TFSI)": [(0, 0), (2.9, 0), (3.2, 1.0), (3.5, 0.3), (4.0, 0), (7.0, 0.2), (9.0, 0.6), (12.0, 0.8),
                (16.0, 0.8), (20, 0.8)],
    "F(TFSI)": [(0, 0), (3.0, 0), (3.3, 0.8), (3.6, 0.2), (4.0, 0), (7.0, 0.2), (10.0, 0.6), (14.0, 0.8),
                (20, 0.8)],
    "O(DME)": [(0, 0), (2.8, 0), (3.0, 2.0), (3.2, 5.0), (3.4, 6.5), (3.65, 4.0), (3.9, 0.8), (4.1, 0), (6.0, 0.1),
               (8.0, 0.5), (10.0, 0.7), (13.0, 0.8), (16.0, 0.8), (20, 0.8)],
    "O(DOL)": [(0, 0), (2.9, 0), (3.2, 0.8), (3.5, 1.2), (3.8, 0.3), (4.2, 0.3), (4.6, 1.0), (5.0, 0.3), (6.0, 0.2),
               (7.0, 0.6), (7.8, 1.2), (8.3, 1.8), (8.8, 1.8), (9.3, 1.3), (10.0, 1.0), (12.0, 1.0), (13.0, 1.2),
               (14.0, 1.0), (16.0, 1.0), (18.0, 1.0), (20, 1.0)],
    "Cc(FEC)": [(0, 0), (2.8, 0), (3.0, 2.0), (3.2, 4.0), (3.4, 2.5), (3.6, 0.3), (4.5, 0.2), (5.0, 0.8),
                (5.25, 2.5), (5.45, 3.5), (5.65, 1.5), (5.9, 0.2), (7.0, 0.3), (9.0, 0.5), (12.0, 0.6), (15.0, 0.7),
                (20, 0.7)],
    "Oc(FEC)": [(0, 0), (2.7, 0), (2.85, 2.5), (3.05, 5.8), (3.25, 3.0), (3.5, 0.3), (4.5, 0.1), (6.0, 0.2),
                (6.35, 2.0), (6.6, 3.5), (6.85, 1.5), (7.1, 0.2), (8.0, 0.3), (10.0, 0.5), (13.0, 0.6), (16.0, 0.7),
                (20, 0.7)],
    "F(FEC)": [(0, 0), (2.8, 0), (3.0, 1.2), (3.2, 2.0), (3.5, 1.0), (3.9, 0.3), (4.2, 1.5), (4.45, 3.5),
               (4.7, 4.6), (4.95, 3.0), (5.2, 0.5), (5.6, 0.1), (7.0, 0.2), (9.0, 0.5), (12.0, 0.8), (15.0, 1.0),
               (18.0, 1.1), (20, 1.2)],
}

PANELS = [[dme_00, dme_04, dme_06, dme_08, dme_12],
          [fec_00, fec_04, fec_06, fec_08, fec_12]]

# y-axis limits and tick values for each panel (column, row)
Y_RANGES = [[(-0.55, 12.6), (-0.65, 15.5), (-0.6, 17.6), (-0.4, 35.5), (-1.4, 85.4)],
            [(-0.55, 6.5), (-0.5, 12.5), (-0.6, 17.6), (-0.5, 45.1), (-1.4, 85.4)]]
Y_TICKS = [[[0, 5, 10], [0, 10], [0, 5, 10, 15], [0, 10, 20, 30], [0, 25, 50, 75]],
           [[0, 2.5, 5], [0, 5, 10], [0, 5, 10, 15], [0, 20, 40], [0, 25, 50, 75]]]
Y_TICKTEXT = [[None] * 5,
              [["0.0", "2.5", "5.0"], None, None, None, None]]

# ---------------------------------------------------------------------------
W, H = 979, 746
FONT = "Liberation Sans, Arial, Helvetica, sans-serif"
TXT = "#262626"
FRAME = "#8a8a8a"

COL_PX = [(58, 423), (496, 862)]
ROW_PX = [(37, 162), (172, 298), (305, 430), (439, 563), (575, 700)]
YLABEL_X = [[27, 27, 27, 27, 27], [458, 462, 462, 462, 462]]
SIGMA_X = [309, 732]


def fx(p):
    return p / W


def fy(p):
    return 1 - p / H


fig = go.Figure()
layout = {}
annotations = []

for c in range(2):
    for r in range(5):
        n = c * 5 + r + 1
        xname = "x" if n == 1 else f"x{n}"
        yname = "y" if n == 1 else f"y{n}"
        panel = PANELS[c][r]
        species = SPECIES[:6] if c == 0 else SPECIES
        for s in species:
            i = SPECIES.index(s)
            pts = panel[s]
            fig.add_trace(go.Scatter(
                x=[p[0] for p in pts], y=[p[1] for p in pts],
                mode="lines", line=dict(color=COLORS[i], width=2),
                name=LEGEND_LABELS[i], legendgroup=s,
                showlegend=(c == 1 and r == 0),
                xaxis=xname, yaxis=yname, hoverinfo="skip"))

        x0, x1 = COL_PX[c]
        t0, t1 = ROW_PX[r]
        axis_common = dict(showline=True, mirror=True, linecolor=FRAME, linewidth=1,
                           showgrid=False, zeroline=False, ticks="outside", ticklen=3,
                           tickwidth=1, tickcolor="#555555",
                           tickfont=dict(family=FONT, size=16, color=TXT))
        xa = dict(axis_common, domain=[fx(x0), fx(x1)], range=[0, 20],
                  tickvals=X_TICKS, anchor=yname, showticklabels=(r == 4))
        if r == 4:
            xa["title"] = dict(text="Distance (Å)", standoff=4,
                               font=dict(family=FONT, size=17, color=TXT))
        ya = dict(axis_common, domain=[fy(t1), fy(t0)], range=list(Y_RANGES[c][r]),
                  tickvals=Y_TICKS[c][r], anchor=xname)
        if Y_TICKTEXT[c][r] is not None:
            ya["ticktext"] = Y_TICKTEXT[c][r]
        layout["xaxis" if n == 1 else f"xaxis{n}"] = xa
        layout["yaxis" if n == 1 else f"yaxis{n}"] = ya

        # y-axis label
        annotations.append(dict(
            x=fx(YLABEL_X[c][r]), y=fy((t0 + t1) / 2), xref="paper", yref="paper",
            text="ρ/ρ<sub>bulk</sub>", textangle=-90, showarrow=False,
            xanchor="center", yanchor="middle",
            font=dict(family=FONT, size=17, color=TXT)))
        # surface charge label
        annotations.append(dict(
            x=fx(SIGMA_X[c]), y=fy(t0 + 19), xref="paper", yref="paper",
            text=SIGMA_LABELS[r], showarrow=False, xanchor="left", yanchor="middle",
            font=dict(family=FONT, size=16, color=TXT)))

# column titles and panel tags
for c, (cx, tag_x) in enumerate([(229.5, 30), (673, 457)]):
    annotations.append(dict(x=fx(cx), y=fy(20), xref="paper", yref="paper",
                            text=COLUMN_TITLES[c], showarrow=False,
                            xanchor="center", yanchor="middle",
                            font=dict(family=FONT, size=18, color=TXT)))
    annotations.append(dict(x=fx(tag_x), y=fy(20), xref="paper", yref="paper",
                            text=PANEL_TAGS[c], showarrow=False,
                            xanchor="center", yanchor="middle",
                            font=dict(family=FONT, size=18, color=TXT)))

fig.update_layout(
    **layout,
    annotations=annotations,
    width=W, height=H, autosize=False,
    margin=dict(l=0, r=0, t=0, b=0),
    paper_bgcolor="white", plot_bgcolor="white",
    font=dict(family=FONT, color=TXT),
    legend=dict(x=fx(882), y=fy(266), xanchor="left", yanchor="top",
                font=dict(family=FONT, size=15, color=TXT),
                tracegroupgap=0, bgcolor="rgba(0,0,0,0)", itemwidth=30),
)

fig.write_html("out.html")
